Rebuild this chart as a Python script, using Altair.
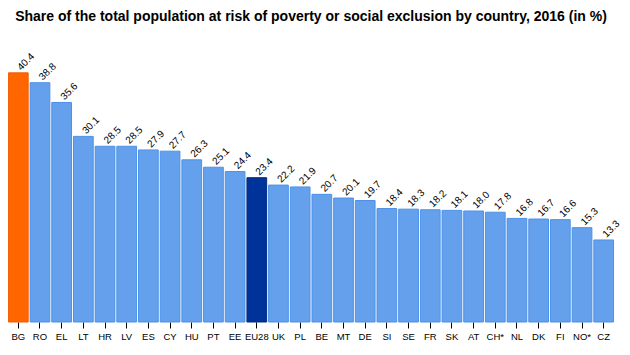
import altair as alt
import pandas as pd

countries = ["BG", "RO", "EL", "LT", "HR", "LV", "ES", "CY", "HU", "PT", "EE", "EU28", "UK", "PL",
             "BE", "MT", "DE", "SI", "SE", "FR", "SK", "AT", "CH*", "NL", "DK", "FI", "NO*", "CZ"]
values = [40.4, 38.8, 35.6, 30.1, 28.5, 28.5, 27.9, 27.7, 26.3, 25.1, 24.4, 23.4, 22.2, 21.9,
          20.7, 20.1, 19.7, 18.4, 18.3, 18.2, 18.1, 18.0, 17.8, 16.8, 16.7, 16.6, 15.3, 13.3]
groups = ["max"] + ["other"] * 10 + ["eu"] + ["other"] * 16

df = pd.DataFrame({"country": countries, "value": values, "group": groups})

FONT = "Liberation Sans"

x = alt.X("country:N", sort=countries, title=None,
          scale=alt.Scale(paddingInner=0.09, paddingOuter=0.02),
          axis=alt.Axis(labelAngle=0, labelFontSize=9.5, labelColor="#000000", labelFont=FONT,
                        tickColor="#000000", tickSize=6, domain=False, labelPadding=3))
y = alt.Y("value:Q", title=None, scale=alt.Scale(domain=[0, 42], nice=False), axis=None)

bars = alt.Chart(df).mark_bar(strokeWidth=1).encode(
    x=x, y=y,
    fill=alt.Fill("group:N", legend=None,
                  scale=alt.Scale(domain=["max", "other", "eu"], range=["#FF6600", "#64A0EC", "#003399"])),
    stroke=alt.Stroke("group:N", legend=None,
                      scale=alt.Scale(domain=["max", "other", "eu"], range=["#F25C00", "#4C91E8", "#002B80"])),
)

labels = alt.Chart(df).mark_text(angle=315, align="left", baseline="alphabetic", dx=3.4, dy=0.6,
                                 fontSize=10, font=FONT, color="#000000").encode(
    x=x, y=y, text=alt.Text("value:Q", format=".1f"))

chart = (bars + labels).properties(
    width=606, height=259,
    title=alt.TitleParams("Share of the total population at risk of poverty or social exclusion by country, 2016 (in %)",
                          font=FONT, fontSize=14, fontWeight="bold", color="#000000", anchor="middle",
                          frame="group", offset=27),
    autosize=alt.AutoSizeParams(type="none"),
    padding={"left": 0, "top": 55, "right": 8, "bottom": 22},
).configure_view(stroke=None)

chart.save("out.html", embed_options={"renderer": "svg", "actions": False})
